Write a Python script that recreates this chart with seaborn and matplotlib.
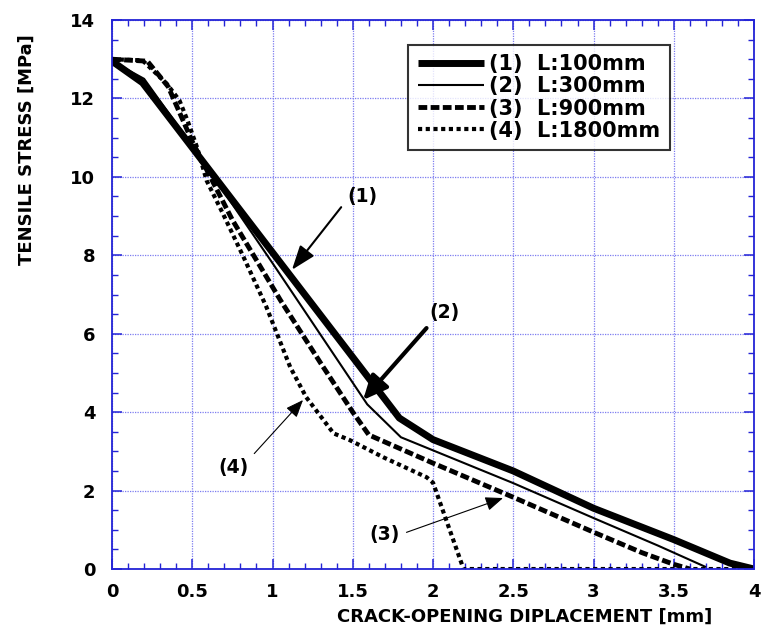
import matplotlib
matplotlib.use("Agg")
import matplotlib.pyplot as plt
import seaborn as sns
import pandas as pd
from matplotlib.ticker import MultipleLocator, FuncFormatter

# curve data (COD in mm, stress in MPa)
x1 = [0.0, 0.19, 1.79, 2.0, 2.5, 3.0, 3.5, 3.85, 4.0]
y1 = [12.95, 12.4, 3.85, 3.3, 2.5, 1.55, 0.75, 0.15, 0.0]

x2 = [0.0, 0.2, 0.55, 1.0, 1.59, 1.8, 2.5, 3.0, 3.4, 3.7]
y2 = [12.95, 12.5, 10.5, 7.8, 4.2, 3.36, 2.19, 1.3, 0.6, 0.05]

x3 = [0.0, 0.22, 0.35, 0.5, 0.75, 1.05, 1.3, 1.5, 1.6, 2.0, 2.5, 3.0, 3.3, 3.5, 3.6]
y3 = [13.0, 12.95, 12.3, 10.9, 8.9, 6.85, 5.25, 4.0, 3.42, 2.7, 1.83, 0.94, 0.42, 0.12, 0.0]

x4 = [0.0, 0.19, 0.34, 0.42, 0.47, 0.53, 0.59, 0.69, 0.82, 0.96, 1.11, 1.21, 1.38,
      1.48, 1.69, 1.96, 2.0, 2.19, 4.0]
y4 = [13.0, 12.97, 12.38, 11.95, 11.44, 10.75, 9.9, 9.07, 7.95, 6.7, 5.15, 4.38, 3.46,
      3.29, 2.85, 2.34, 2.2, 0.0, 0.0]

labels = ["(1)  L:100mm", "(2)  L:300mm", "(3)  L:900mm", "(4)  L:1800mm"]

# annotation (text position, arrow tip) in data units
notes = ["(1)", "(2)", "(3)", "(4)"]
note_xy = [(1.558, 9.49), (2.07, 6.55), (1.695, 0.87), (0.754, 2.58)]
tip_xy = [(1.121, 7.63), (1.564, 4.31), (2.436, 1.81), (1.19, 4.31)]
# where the arrow leaves the text box
rel_pos = [(0.0, 0.35), (0.1, 0.0), (1.0, 0.5), (1.0, 0.9)]

sns.set_style("white")
plt.rcParams["font.family"] = ["DejaVu Sans"]
plt.rcParams["font.weight"] = "bold"
plt.rcParams["text.color"] = "black"
plt.rcParams["axes.labelcolor"] = "black"
plt.rcParams["xtick.labelcolor"] = "black"
plt.rcParams["ytick.labelcolor"] = "black"

BLUE = "#2323d6"
GRID = "#7d7df0"

fig = plt.figure(figsize=(7.79, 6.37), dpi=100)
ax = fig.add_axes([0.1438, 0.1067, 0.8242, 0.8619])

styles = [
    dict(lw=5.0, ls="-"),
    dict(lw=1.5, ls="-"),
    dict(lw=3.5, ls=(0, (1.8, 0.7))),
    dict(lw=3.0, ls=(0, (1.0, 0.85))),
]
for xs, ys, lab, st in zip([x1, x2, x3, x4], [y1, y2, y3, y4], labels, styles):
    df = pd.DataFrame({"x": xs, "y": ys})
    sns.lineplot(data=df, x="x", y="y", ax=ax, color="black", label=lab,
                 sort=False, estimator=None, solid_capstyle="butt", **st)

ax.set_xlim(0, 4)
ax.set_ylim(0, 14)
ax.xaxis.set_major_locator(MultipleLocator(0.5))
ax.xaxis.set_minor_locator(MultipleLocator(0.1))
ax.yaxis.set_major_locator(MultipleLocator(2))
ax.yaxis.set_minor_locator(MultipleLocator(0.5))
ax.xaxis.set_major_formatter(FuncFormatter(lambda v, p: f"{v:g}"))
ax.yaxis.set_major_formatter(FuncFormatter(lambda v, p: f"{v:g}"))

ax.grid(True, which="major", color=GRID, ls=(0, (1, 1)), lw=0.9)
ax.set_axisbelow(True)
for s in ax.spines.values():
    s.set_color(BLUE)
    s.set_linewidth(1.3)
ax.tick_params(which="both", direction="in", color=BLUE, top=True, right=True,
               bottom=True, left=True)
ax.tick_params(which="major", length=7, width=1.1, labelsize=13)
ax.tick_params(axis="x", which="major", pad=10)
ax.tick_params(axis="y", which="major", pad=12)
ax.tick_params(which="minor", length=4, width=1.0)
for t in ax.get_xticklabels() + ax.get_yticklabels():
    t.set_fontweight("bold")

ax.set_ylabel("TENSILE STRESS [MPa]", fontsize=13, fontweight="bold")
ax.yaxis.set_label_coords(-0.118, 0.763)
ax.set_xlabel("CRACK-OPENING DIPLACEMENT [mm]", fontsize=13, fontweight="bold")
ax.xaxis.set_label_coords(0.6425, -0.070)

leg = ax.legend(loc="upper right", bbox_to_anchor=(0.869, 0.9545), fontsize=15,
                frameon=True, fancybox=False, handlelength=3.2, handletextpad=0.25,
                labelspacing=0.1, borderpad=0.45, borderaxespad=0)
leg.get_frame().set_edgecolor("black")
leg.get_frame().set_linewidth(1.5)
for t in leg.get_texts():
    t.set_fontweight("bold")
    t.set_color("black")

# arrows: line width, head length, head half-width
arrow_lw = [1.5, 3.0, 0.8, 0.8]
head_len = [1.1, 1.1, 0.8, 0.8]
head_wid = [0.4, 0.5, 0.32, 0.32]
for txt, xy_t, xy_a, rp, lw, hl, hw in zip(notes, note_xy, tip_xy, rel_pos,
                                           arrow_lw, head_len, head_wid):
    ax.annotate(txt, xy=xy_a, xytext=xy_t, fontsize=13.5, fontweight="bold",
                ha="center", va="center", color="black",
                arrowprops=dict(arrowstyle=f"-|>,head_length={hl},head_width={hw}",
                                color="black", lw=lw, shrinkA=3, shrinkB=0,
                                relpos=rp))

fig.savefig("out.png", dpi=100)
